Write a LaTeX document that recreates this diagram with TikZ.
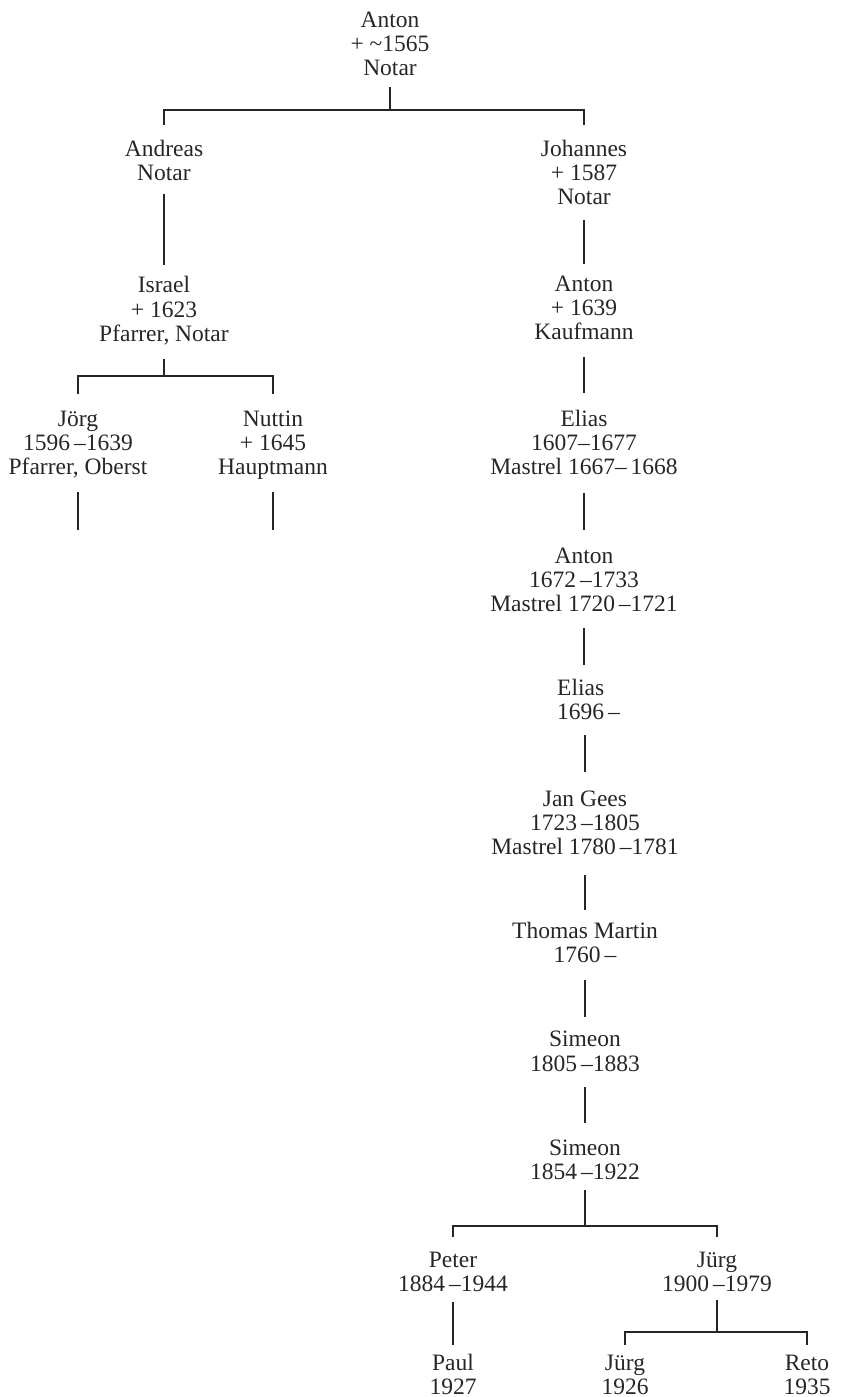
\documentclass[tikz,border=0pt]{standalone}
\usepackage{fontspec}
\setmainfont{Liberation Serif}
\usetikzlibrary{calc}
\newcommand\pfont{\fontsize{23.5pt}{24.3pt}\selectfont}
\newcommand\lstr{\rule[-6pt]{0pt}{23pt}}
\definecolor{ink}{gray}{0.15}
\begin{document}
\begin{tikzpicture}[x=1pt,y=-1pt,
  pn/.style={align=center, inner sep=0pt, anchor=north, font=\pfont, text=ink},
  con/.style={draw=ink, line width=1.1pt}]
\useasboundingbox (0,0) rectangle (845,1397);
% persons
\node[pn] (anton1) at (390,10) {\lstr Anton\\\lstr + \textasciitilde1565\\\lstr Notar};
\node[pn] (andreas) at (164,139) {\lstr Andreas\\\lstr Notar};
\node[pn] (johannes) at (584,139) {\lstr Johannes\\\lstr + 1587\\\lstr Notar};
\node[pn] (israel) at (164,275.5) {\lstr Israel\\\lstr + 1623\\\lstr Pfarrer, Notar};
\node[pn] (anton2) at (584,274) {\lstr Anton\\\lstr + 1639\\\lstr Kaufmann};
\node[pn] (jorg1) at (78,409) {\lstr Jörg\\\lstr 1596\,–1639\\\lstr Pfarrer, Oberst};
\node[pn] (nuttin) at (273,409) {\lstr Nuttin\\\lstr + 1645\\\lstr Hauptmann};
\node[pn] (elias1) at (584,409) {\lstr Elias\\\lstr 1607–1677\\\lstr Mastrel 1667–\,1668};
\node[pn] (anton3) at (584,546) {\lstr Anton\\\lstr 1672\,–1733\\\lstr Mastrel 1720\,–1721};
\node[pn, anchor=north west, align=left] (elias2) at (557,678) {\lstr Elias\\\lstr 1696\,–};
\node[pn] (jangees) at (585,789) {\lstr Jan Gees\\\lstr 1723\,–1805\\\lstr Mastrel 1780\,–1781};
\node[pn] (thomas) at (585,921) {\lstr Thomas Martin\\\lstr 1760\,–};
\node[pn] (simeon1) at (585,1029.7) {\lstr Simeon\\\lstr 1805\,–1883};
\node[pn] (simeon2) at (585,1138) {\lstr Simeon\\\lstr 1854\,–1922};
\node[pn] (peter) at (453,1250) {\lstr Peter\\\lstr 1884\,–1944};
\node[pn] (jurg1) at (717,1250) {\lstr Jürg\\\lstr 1900\,–1979};
\node[pn] (paul) at (453,1353) {\lstr Paul\\\lstr 1927};
\node[pn] (jurg2) at (625,1353) {\lstr Jürg\\\lstr 1926};
\node[pn] (reto) at (807,1353) {\lstr Reto\\\lstr 1935};
% junctions and free ends
\coordinate (f1) at (390,110);
\coordinate (f2) at (164,376);
\coordinate (f3) at (585,1226);
\coordinate (f4) at (717,1332);
\coordinate (jend) at (78,530);
\coordinate (nend) at (273,530);
% connectors
\draw[con] ([yshift=-5pt]anton1.south) -- (f1);
\draw[con] ([yshift=14pt]andreas.north) |- (f1) -| ([yshift=14pt]johannes.north);
\draw[con] ([yshift=-7pt]andreas.south) -- ([yshift=10.5pt]israel.north);
\draw[con] ([yshift=-9.4pt]johannes.south) -- ([yshift=10.5pt]anton2.north);
\draw[con] ([yshift=-11pt]israel.south) -- (f2);
\draw[con] ([yshift=15pt]jorg1.north) |- (f2) -| ([yshift=15pt]nuttin.north);
\draw[con] ([yshift=-11.4pt]jorg1.south) -- (jend);
\draw[con] ([yshift=-11.4pt]nuttin.south) -- (nend);
\draw[con] ([yshift=-11.4pt]anton2.south) -- ([yshift=16pt]elias1.north);
\draw[con] ([yshift=-12.4pt]elias1.south) -- ([yshift=16pt]anton3.north);
\draw[con] ([yshift=-10.4pt]anton3.south) -- ($(anton3.south |- elias2.north)+(0,-13)$);
\draw[con] ($(jangees.north |- elias2.south)+(0,9.7)$) -- ([yshift=17pt]jangees.north);
\draw[con] ([yshift=-14.4pt]jangees.south) -- ([yshift=11pt]thomas.north);
\draw[con] ([yshift=-11.7pt]thomas.south) -- ([yshift=12.7pt]simeon1.north);
\draw[con] ([yshift=-10pt]simeon1.south) -- ([yshift=15pt]simeon2.north);
\draw[con] ([yshift=-4pt]simeon2.south) -- (f3);
\draw[con] ([yshift=13pt]peter.north) |- (f3) -| ([yshift=13pt]jurg1.north);
\draw[con] ([yshift=-4.7pt]peter.south) -- ([yshift=8pt]paul.north);
\draw[con] ([yshift=-2.7pt]jurg1.south) -- (f4);
\draw[con] ([yshift=8pt]jurg2.north) |- (f4) -| ([yshift=8pt]reto.north);
\end{tikzpicture}
\end{document}
